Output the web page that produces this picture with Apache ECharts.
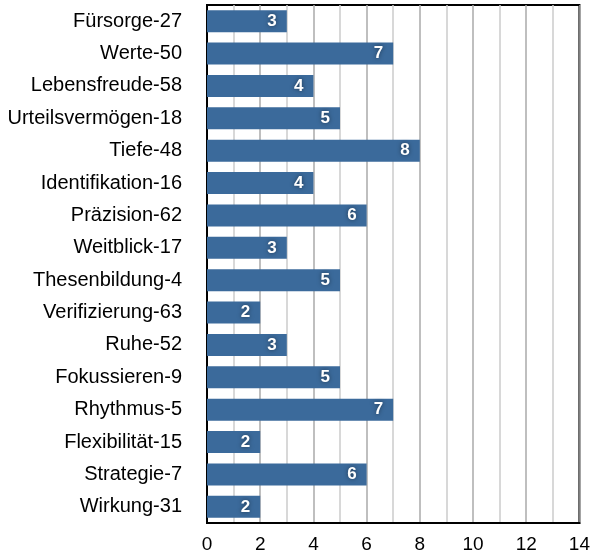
<!DOCTYPE html>
<html>
<head>
<meta charset="utf-8">
<script src="https://cdn.jsdelivr.net/npm/echarts@6/dist/echarts.min.js"></script>
<style>
  html, body { margin: 0; padding: 0; background: #fff; }
</style>
</head>
<body>
<div id="myChart" style="width: 593px; height: 555px;"></div>
<script>
  var categories = ['Fürsorge-27', 'Werte-50', 'Lebensfreude-58', 'Urteilsvermögen-18', 'Tiefe-48',
    'Identifikation-16', 'Präzision-62', 'Weitblick-17', 'Thesenbildung-4', 'Verifizierung-63',
    'Ruhe-52', 'Fokussieren-9', 'Rhythmus-5', 'Flexibilität-15', 'Strategie-7', 'Wirkung-31'];
  var values = [3, 7, 4, 5, 8, 4, 6, 3, 5, 2, 3, 5, 7, 2, 6, 2];

  var myChart = echarts.init(document.getElementById('myChart'));
  myChart.setOption({
    animation: false,
    textStyle: { fontFamily: 'Liberation Sans, Arial, sans-serif' },
    grid: {
      left: 207,
      right: 10,
      top: 5,
      bottom: 32,
      show: true,
      borderColor: '#000',
      borderWidth: 2,
      containLabel: false
    },
    xAxis: {
      type: 'value',
      min: 0,
      max: 14,
      interval: 2,
      axisLine: { show: true, lineStyle: { color: '#000', width: 2 } },
      axisTick: { show: false },
      axisLabel: { color: '#000', fontSize: 19, margin: 12 },
      splitLine: { show: true, lineStyle: { color: '#aaa', width: 1.5 } },
      minorTick: { show: false, splitNumber: 2 },
      minorSplitLine: { show: true, lineStyle: { color: '#ccc', width: 1.5 } }
    },
    yAxis: {
      type: 'category',
      inverse: true,
      data: categories,
      axisLine: { show: true, lineStyle: { color: '#000', width: 2 } },
      axisTick: { show: false },
      axisLabel: { color: '#000', fontSize: 20, margin: 25 },
      splitLine: { show: false }
    },
    series: [{
      type: 'bar',
      data: values,
      barCategoryGap: '32%',
      itemStyle: { color: '#3b6a9b' },
      label: {
        show: true,
        position: 'insideRight',
        distance: 10,
        color: '#fff',
        fontWeight: 'bold',
        fontSize: 17,
        textShadowColor: 'rgba(0,0,0,0.5)',
        textShadowBlur: 4
      }
    }]
  });
</script>
</body>
</html>
